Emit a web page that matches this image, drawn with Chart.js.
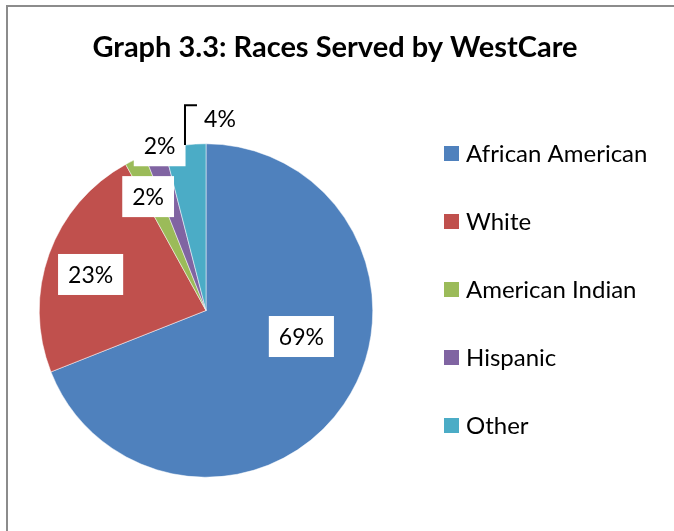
<!DOCTYPE html>
<html>
<head>
<meta charset="utf-8">
<title>Races Served by WestCare</title>
<script src="https://cdn.jsdelivr.net/npm/chart.js@4.4.0/dist/chart.umd.min.js"></script>
<style>
    html, body { margin: 0; padding: 0; background: #fff; }
    #wrap { position: relative; width: 674px; height: 531px; }
</style>
</head>
<body>
<div id="wrap">
    <canvas id="races-chart" width="674" height="531"></canvas>
</div>
<script>
// -------------- Data --------------
const races = ['African American', 'White', 'American Indian', 'Hispanic', 'Other'];
const shares = [69, 23, 2, 2, 4];
const sliceColors = ['#4F81BD', '#C0504D', '#9BBB59', '#8064A2', '#4BACC6'];

// where each percent label sits, in pie radii from the centre
const labelSpots = [
    [0.572, 0.156],
    [-0.692, -0.216],
    [-0.347, -0.683],
    [-0.278, -0.988],
    [0.084, -1.150]
];

const FONT = 'Lato, "Open Sans", sans-serif';

// frame, title, legend and value labels drawn on top of the pie
const decorations = {
    id: 'decorations',
    beforeDraw(chart) {
        const ctx = chart.ctx;
        ctx.save();
        ctx.fillStyle = '#fff';
        ctx.fillRect(0, 0, chart.width, chart.height);
        // gray frame, only top and left edges show
        ctx.strokeStyle = '#8c8c8c';
        ctx.lineWidth = 2;
        ctx.beginPath();
        ctx.moveTo(7, chart.height);
        ctx.lineTo(7, 6);
        ctx.lineTo(chart.width, 6);
        ctx.stroke();

        // title
        ctx.fillStyle = '#000';
        ctx.font = 'bold 29px ' + FONT;
        ctx.textAlign = 'center';
        ctx.textBaseline = 'alphabetic';
        ctx.fillText('Graph 3.3: Races Served by WestCare', 335, 57);
        ctx.restore();
    },
    afterDraw(chart) {
        const ctx = chart.ctx;
        const arcs = chart.getDatasetMeta(0).data;
        const cx = arcs[0].x, cy = arcs[0].y, r = arcs[0].outerRadius;
        ctx.save();

        // percent labels in white boxes
        ctx.font = '23px ' + FONT;
        ctx.textAlign = 'center';
        ctx.textBaseline = 'middle';
        shares.forEach((v, i) => {
            const txt = v + '%';
            const x = cx + labelSpots[i][0] * r;
            const y = cy + labelSpots[i][1] * r;
            const w = ctx.measureText(txt).width + 20;
            const h = 41;
            ctx.fillStyle = '#fff';
            ctx.fillRect(x - w / 2, y - h / 2, w, h);
            ctx.fillStyle = '#000';
            ctx.fillText(txt, x, y + 1);
        });

        // leader line for the small "Other" slice
        ctx.strokeStyle = '#000';
        ctx.lineWidth = 2;
        ctx.beginPath();
        ctx.moveTo(cx - 0.054 * r, cy - 1.231 * r);
        ctx.lineTo(cx - 0.126 * r, cy - 1.231 * r);
        ctx.lineTo(cx - 0.126 * r, cy - Math.sqrt(r * r - Math.pow(0.126 * r, 2)));
        ctx.stroke();

        // legend
        ctx.font = '24px ' + FONT;
        ctx.textAlign = 'left';
        races.forEach((name, i) => {
            const y = 153.5 + i * 68;
            ctx.fillStyle = sliceColors[i];
            ctx.fillRect(444, y - 7.5, 15, 15);
            ctx.fillStyle = '#000';
            ctx.fillText(name, 466, y + 1);
        });
        ctx.restore();
    }
};

const racesChart = new Chart(document.getElementById('races-chart'), {
    type: 'pie',
    data: {
        labels: races,
        datasets: [{
            data: shares,
            backgroundColor: sliceColors,
            borderWidth: 0.5,
            borderColor: '#fff'
        }]
    },
    options: {
        responsive: false,
        animation: false,
        layout: {
            padding: { left: 39, top: 143.5, right: 301, bottom: 53.5 }
        },
        plugins: {
            legend: { display: false },
            title: { display: false },
            tooltip: { enabled: false }
        }
    },
    plugins: [decorations]
});
</script>
</body>
</html>
